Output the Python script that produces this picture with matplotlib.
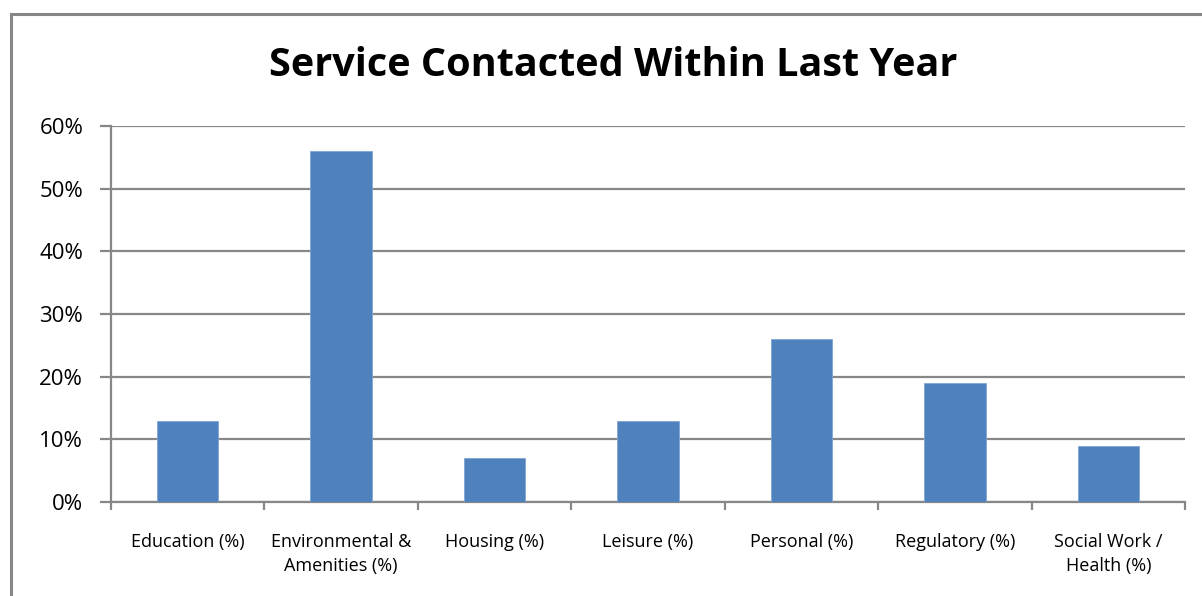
import matplotlib
matplotlib.use("Agg")
import matplotlib.pyplot as plt
from matplotlib.lines import Line2D
from matplotlib.ticker import FixedLocator, PercentFormatter

categories = ["Education (%)", "Environmental &\nAmenities (%)", "Housing (%)",
              "Leisure (%)", "Personal (%)", "Regulatory (%)",
              "Social Work /\nHealth (%)"]
values = [13, 56, 7, 13, 26, 19, 9]
y_ticks = [0, 10, 20, 30, 40, 50, 60]
title = "Service Contacted Within Last Year"

W, H = 1202, 596
fig = plt.figure(figsize=(W / 100, H / 100), dpi=100)
plt.rcParams['font.family'] = ['Open Sans', 'DejaVu Sans']

grey = "#878787"
# outer chart frame (top and left edges)
fig.add_artist(Line2D([11 / W, 11 / W], [0, 1 - 14 / H], color=grey, lw=2.2,
                      transform=fig.transFigure))
fig.add_artist(Line2D([11 / W, 1], [1 - 14 / H, 1 - 14 / H], color=grey, lw=2.2,
                      transform=fig.transFigure))

ax = fig.add_axes([111 / W, 1 - 502 / H, (1185 - 111) / W, (502 - 126) / H])
n = len(categories)
x = list(range(n))
ax.bar(x, values, width=0.4, color="#4F81BD", edgecolor="#7FA5D6", linewidth=0.6, zorder=3)

ax.set_xlim(-0.5, n - 0.5)
ax.set_ylim(0, 60)
ax.set_yticks(y_ticks)
ax.yaxis.set_major_formatter(PercentFormatter(decimals=0))
ax.grid(axis="y", color=grey, lw=1.6, zorder=0)
ax.tick_params(axis="y", length=8, width=1.6, color=grey, labelsize=16, pad=12)

# category boundaries as major ticks, labels on minor ticks at bar centres
ax.xaxis.set_major_locator(FixedLocator([i - 0.5 for i in range(n + 1)]))
ax.xaxis.set_minor_locator(FixedLocator(x))
ax.set_xticklabels([""] * (n + 1))
ax.set_xticklabels(categories, minor=True)
ax.tick_params(axis="x", which="major", length=6, width=1.6, color=grey)
ax.tick_params(axis="x", which="minor", length=0, labelsize=13, pad=22)
for lbl in ax.get_xticklabels(minor=True):
    lbl.set_verticalalignment("top")
    lbl.set_linespacing(1.45)

for side in ["top", "right"]:
    ax.spines[side].set_visible(False)
for side in ["left", "bottom"]:
    ax.spines[side].set_color(grey)
    ax.spines[side].set_linewidth(1.6)

fig.text(613 / W, 1 - 65 / H, title, ha="center", va="center",
         fontsize=28.5, fontweight="bold")

fig.savefig("out.png", dpi=100)
